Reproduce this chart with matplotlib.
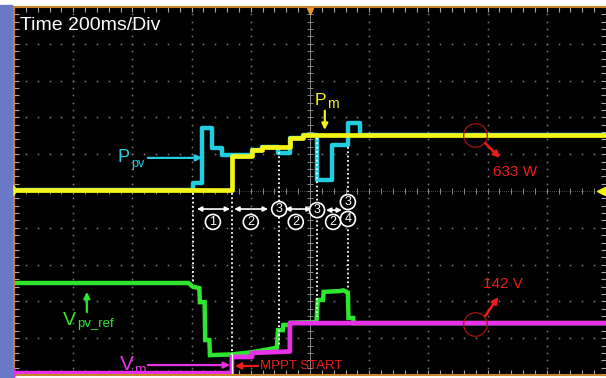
import matplotlib.pyplot as plt
from matplotlib.patches import Rectangle
from matplotlib.ticker import MultipleLocator

plt.rcParams['font.family'] = ['Liberation Sans', 'DejaVu Sans']

# time axis in ms (200 ms/div, 10 div), amplitude in screen divisions (10 div)
pm_t = [0, 736, 736, 804, 804, 838, 838, 932, 932, 976, 976, 2000]
pm_v = [5.03, 5.03, 5.95, 5.95, 6.11, 6.11, 6.20, 6.20, 6.45, 6.45, 6.52, 6.52]

ppv_t = [0, 604, 604, 636, 636, 668, 668, 702, 702, 804, 804, 838, 838, 892, 892,
         932, 932, 976, 976, 1024, 1024, 1074, 1074, 1128, 1128, 1168, 1168, 2000]
ppv_v = [5.03, 5.03, 5.22, 5.22, 6.71, 6.71, 6.17, 6.17, 5.98, 5.98, 6.11, 6.11, 6.20, 6.20,
         6.03, 6.03, 6.45, 6.45, 6.52, 6.52, 5.30, 5.30, 6.25, 6.25, 6.85, 6.85, 6.52, 6.52]

vref_t = [0, 590, 604, 626, 628, 644, 646, 660, 662, 736, 804, 888, 892, 908, 910,
          932, 934, 1022, 1026, 1044, 1046, 1100, 1112, 1124, 1128, 1130, 1146, 1148, 2000]
vref_v = [2.50, 2.50, 2.40, 2.36, 1.98, 1.98, 0.95, 0.95, 0.54, 0.56, 0.62, 0.74, 1.22, 1.22,
          1.36, 1.36, 1.42, 1.44, 2.04, 2.04, 2.26, 2.28, 2.30, 2.26, 2.24, 1.55, 1.55, 1.41, 1.41]

vm_t = [0, 736, 736, 804, 804, 932, 932, 2000]
vm_v = [0.05, 0.05, 0.49, 0.49, 0.60, 0.64, 1.41, 1.41]

# algorithm stage markers: time, top and bottom of dotted line
mark_t = [604, 736, 896, 1024, 1128]
mark_top = [4.95, 4.95, 6.06, 6.44, 6.20]
mark_bot = [2.53, 0.54, 0.76, 1.58, 2.31]

# stage spans (double arrows) and their step labels
span_t0 = [618, 744, 916, 1054]
span_t1 = [730, 858, 1006, 1108]
span_y = [4.51, 4.51, 4.51, 4.48]
span_lab = ['1', '2', '2', '2']
span_lab_t = [672, 800, 952, 1078]
stage_t = [896, 1024, 1128, 1128]
stage_y = [4.51, 4.48, 4.70, 4.24]
stage_lab = ['3', '3', '3', '4']

YEL = '#f4f418'
CYA = '#22cde0'
GRN = '#2ee62e'
MAG = '#e830e8'
RED = '#ee1c1c'

fig = plt.figure(figsize=(6.06, 3.78), dpi=100, facecolor='white')
fig.patches.append(Rectangle((0, 0), 12 / 606, 373 / 378, transform=fig.transFigure,
                             color='#6a78c8', zorder=0))
ax = fig.add_axes([14 / 606, 3 / 378, 592 / 606, 368 / 378])
ax.set_facecolor('black')
ax.set_xlim(0, 2000)
ax.set_ylim(0, 10)
for s in ax.spines.values():
    s.set_color('#c8862c')
    s.set_linewidth(1.5)
ax.spines['right'].set_visible(False)
ax.xaxis.set_major_locator(MultipleLocator(200))
ax.xaxis.set_minor_locator(MultipleLocator(40))
ax.yaxis.set_major_locator(MultipleLocator(1))
ax.yaxis.set_minor_locator(MultipleLocator(0.2))
ax.tick_params(which='both', direction='in', top=True, right=True, length=3.5,
               width=0.8, color='#a8a8a8', labelbottom=False, labelleft=False)

# graticule dots
gc = '#7c7c7c'
for k in range(1, 10):
    if k == 5:
        continue
    ax.plot([200 * k] * 49, [0.2 * j for j in range(1, 50)], ls='none', marker='s',
            ms=1.1, color=gc, mew=0)
    ax.plot([40 * j for j in range(1, 50)], [k] * 49, ls='none', marker='s',
            ms=1.1, color=gc, mew=0)
# centre cross with ticks
ax.axvline(1000, color='#8a8a8a', lw=0.7)
ax.axhline(5, color='#8a8a8a', lw=0.5, ls=(0, (1, 2)))
ax.plot([1000] * 49, [0.2 * j for j in range(1, 50)], ls='none', marker='_', ms=5,
        color='#8a8a8a', mew=0.7)
ax.plot([40 * j for j in range(1, 50)], [5] * 49, ls='none', marker='|', ms=5,
        color='#8a8a8a', mew=0.7)

# traces
ax.plot(vref_t, vref_v, color=GRN, lw=3.2, solid_joinstyle='miter')
ax.plot(vm_t, vm_v, color=MAG, lw=3.4)
ax.plot(ppv_t, ppv_v, color=CYA, lw=3.2)
ax.plot(pm_t, pm_v, color=YEL, lw=3.4)

# stage markers
for t, a, b in zip(mark_t, mark_top, mark_bot):
    ax.plot([t, t], [a, b], color='white', lw=1.3, ls=(0, (1, 1.4)))
ax.plot([736, 736], [0, 0.54], color='white', lw=1)
for t0, t1, y in zip(span_t0, span_t1, span_y):
    ax.annotate('', xy=(t1, y), xytext=(t0, y),
                arrowprops=dict(arrowstyle='<|-|>', color='white', lw=1.2,
                                shrinkA=0, shrinkB=0, mutation_scale=7))
circ = dict(boxstyle='circle,pad=0.12', fc='black', ec='white', lw=1.2)
for t, lab in zip(span_lab_t, span_lab):
    ax.text(t, 4.16, lab, color='white', fontsize=9, ha='center', va='center', bbox=circ)
for t, y, lab in zip(stage_t, stage_y, stage_lab):
    ax.text(t, y, lab, color='white', fontsize=9, ha='center', va='center', bbox=circ)

# channel and trigger markers
ax.plot([-17], [5.03], 'o', ms=9, color=YEL, clip_on=False, zorder=5)
ax.text(-17, 5.0, '1', fontsize=6, color='black', ha='center', va='center', zorder=6)
ax.plot([-17], [0.05], 'o', ms=9, color=MAG, clip_on=False, zorder=5)
ax.text(-17, 0.03, '3', fontsize=6, color='black', ha='center', va='center', zorder=6)
ax.plot([1982], [5.0], '<', ms=6, color=YEL, clip_on=False, zorder=5)
ax.plot([1000], [9.88], 'v', ms=5, color='#e89a30', clip_on=False, zorder=5)

ax.text(20, 9.51, 'Time 200ms/Div', color='white', fontsize=14, va='center')

# signal labels
ax.text(348, 5.79, 'P', color=CYA, fontsize=13, va='baseline')
ax.text(396, 5.66, 'pv', color=CYA, fontsize=9, va='baseline')
ax.annotate('', xy=(636, 5.90), xytext=(452, 5.90),
            arrowprops=dict(arrowstyle='-|>', color=CYA, lw=1.6, mutation_scale=9,
                            shrinkA=0, shrinkB=0))

ax.text(1016, 7.34, 'P', color=YEL, fontsize=12.5, va='baseline')
ax.text(1056, 7.26, 'm', color=YEL, fontsize=10, va='baseline')
ax.annotate('', xy=(1050, 6.66), xytext=(1050, 7.18),
            arrowprops=dict(arrowstyle='-|>', color=YEL, lw=1.6, mutation_scale=9,
                            shrinkA=0, shrinkB=0))

ax.text(166, 1.36, 'V', color=GRN, fontsize=14, va='baseline')
ax.text(212, 1.30, 'pv_ref', color=GRN, fontsize=9.5, va='baseline')
ax.annotate('', xy=(246, 2.26), xytext=(246, 1.71),
            arrowprops=dict(arrowstyle='-|>', color=GRN, lw=1.6, mutation_scale=9,
                            shrinkA=0, shrinkB=0))

ax.text(358, 0.14, 'V', color=MAG, fontsize=15, va='baseline')
ax.text(404, 0.03, 'm', color=MAG, fontsize=10, va='baseline')
ax.annotate('', xy=(730, 0.27), xytext=(452, 0.27),
            arrowprops=dict(arrowstyle='-|>', color=MAG, lw=1.6, mutation_scale=9,
                            shrinkA=0, shrinkB=0))

ax.annotate('', xy=(746, 0.245), xytext=(824, 0.245),
            arrowprops=dict(arrowstyle='-|>', color=RED, lw=1.6, mutation_scale=9,
                            shrinkA=0, shrinkB=0))
ax.text(832, 0.245, 'MPPT START', color=RED, fontsize=9.5, va='center')

# measured steady-state values
ax.plot([1558], [6.52], 'o', ms=17, mfc='none', mec='#a41414', mew=0.9)
ax.annotate('', xy=(1642, 5.90), xytext=(1592, 6.30),
            arrowprops=dict(arrowstyle='-|>', color=RED, lw=1.8, mutation_scale=9,
                            shrinkA=0, shrinkB=0))
ax.text(1618, 5.52, '633 W', color=RED, fontsize=11, va='center')

ax.plot([1558], [1.38], 'o', ms=17, mfc='none', mec='#a41414', mew=0.9)
ax.annotate('', xy=(1636, 2.12), xytext=(1592, 1.60),
            arrowprops=dict(arrowstyle='-|>', color=RED, lw=1.8, mutation_scale=9,
                            shrinkA=0, shrinkB=0))
ax.text(1584, 2.47, '142 V', color=RED, fontsize=11, va='center')

fig.savefig('out.png', dpi=100, facecolor='white')
